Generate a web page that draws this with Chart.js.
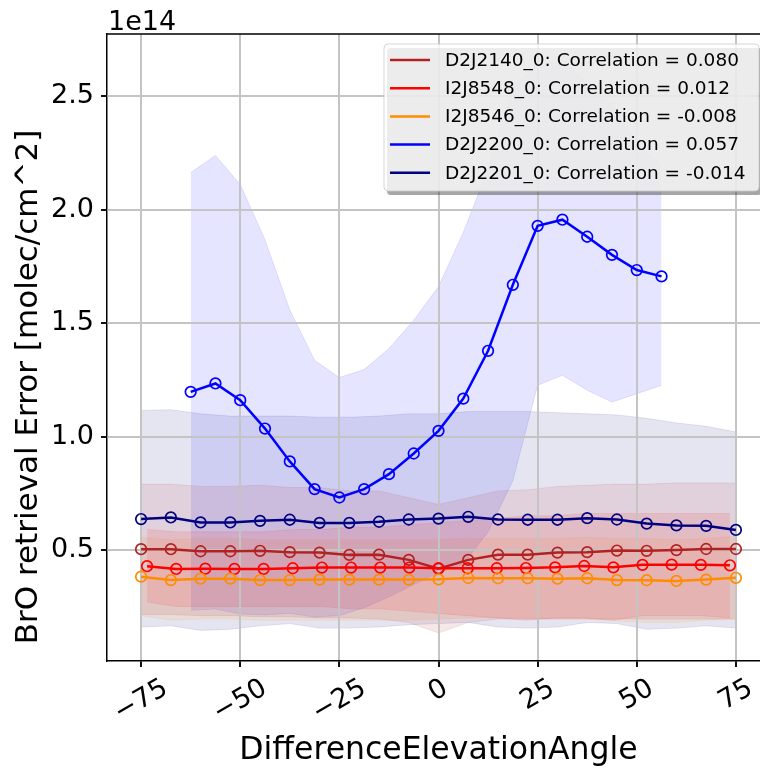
<!DOCTYPE html>
<html>
<head>
<meta charset="utf-8">
<script src="https://cdn.jsdelivr.net/npm/chart.js"></script>
<style>
  html, body { margin: 0; padding: 0; background: #fff; overflow: hidden; }
  #wrap { width: 780px; height: 772px; }
</style>
</head>
<body>
<div id="wrap"><canvas id="myChart" width="780" height="772"></canvas></div>
<script>
// elevation angle differences (x)
const xMain = [-75, -67.5, -60, -52.5, -45, -37.5, -30, -22.5, -15, -7.5, 0, 7.5, 15, 22.5, 30, 37.5, 45, 52.5, 60, 67.5, 75];
const xRed = [-73.5, -66.15, -58.8, -51.45, -44.1, -36.75, -29.4, -22.05, -14.7, -7.35, 0, 7.35, 14.7, 22.05, 29.4, 36.75, 44.1, 51.45, 58.8, 66.15, 73.5];
const xBlue = [-62.5, -56.25, -50, -43.75, -37.5, -31.25, -25, -18.75, -12.5, -6.25, 0, 6.25, 12.5, 18.75, 25, 31.25, 37.5, 43.75, 50, 56.25];

// tick values / labels
const xTicks = [-75, -50, -25, 0, 25, 50, 75];
const xTickLabels = ['\u221275', '\u221250', '\u221225', '0', '25', '50', '75'];
const yTicks = [0.5, 1.0, 1.5, 2.0, 2.5];

const seriesNames = ['D2J2140_0', 'I2J8548_0', 'I2J8546_0', 'D2J2200_0', 'D2J2201_0'];
const correlations = ['0.080', '0.012', '-0.008', '0.057', '-0.014'];

// mean error (units of 1e14 molec/cm^2)
const d2j2140 = [0.503, 0.503, 0.494, 0.494, 0.496, 0.490, 0.488, 0.478, 0.479, 0.456, 0.417, 0.456, 0.479, 0.479, 0.488, 0.490, 0.497, 0.496, 0.499, 0.504, 0.504];
const i2j8548 = [0.428, 0.416, 0.417, 0.416, 0.416, 0.419, 0.422, 0.422, 0.422, 0.422, 0.419, 0.419, 0.419, 0.420, 0.423, 0.429, 0.423, 0.434, 0.435, 0.434, 0.432];
const i2j8546 = [0.382, 0.367, 0.373, 0.373, 0.367, 0.367, 0.369, 0.369, 0.369, 0.369, 0.370, 0.376, 0.375, 0.375, 0.373, 0.375, 0.367, 0.366, 0.363, 0.369, 0.377];
const d2j2200 = [1.197, 1.234, 1.160, 1.035, 0.890, 0.768, 0.731, 0.768, 0.834, 0.925, 1.025, 1.167, 1.378, 1.669, 1.929, 1.956, 1.881, 1.801, 1.734, 1.706];
const d2j2201 = [0.636, 0.643, 0.621, 0.621, 0.628, 0.633, 0.619, 0.619, 0.624, 0.634, 0.638, 0.646, 0.634, 0.633, 0.633, 0.640, 0.634, 0.616, 0.608, 0.606, 0.588];

// spread bands (upper / lower)
const d2j2140Hi = [0.79, 0.79, 0.78, 0.78, 0.785, 0.775, 0.775, 0.76, 0.76, 0.73, 0.70, 0.73, 0.76, 0.765, 0.78, 0.785, 0.79, 0.79, 0.795, 0.795, 0.795];
const d2j2140Lo = [0.215, 0.215, 0.21, 0.21, 0.205, 0.205, 0.20, 0.20, 0.195, 0.18, 0.134, 0.18, 0.195, 0.195, 0.195, 0.195, 0.195, 0.195, 0.195, 0.195, 0.195];
const i2j8548Hi = [0.59, 0.58, 0.58, 0.58, 0.58, 0.59, 0.59, 0.60, 0.60, 0.61, 0.62, 0.63, 0.64, 0.65, 0.65, 0.66, 0.66, 0.66, 0.66, 0.66, 0.66];
const i2j8548Lo = [0.27, 0.25, 0.25, 0.25, 0.25, 0.25, 0.25, 0.24, 0.24, 0.23, 0.22, 0.21, 0.20, 0.19, 0.20, 0.20, 0.19, 0.21, 0.21, 0.21, 0.20];
const i2j8546Hi = [0.555, 0.545, 0.55, 0.55, 0.545, 0.545, 0.545, 0.545, 0.545, 0.545, 0.545, 0.55, 0.55, 0.55, 0.55, 0.555, 0.55, 0.55, 0.545, 0.55, 0.56];
const i2j8546Lo = [0.21, 0.19, 0.195, 0.195, 0.19, 0.19, 0.19, 0.19, 0.19, 0.19, 0.195, 0.20, 0.20, 0.20, 0.195, 0.195, 0.185, 0.18, 0.18, 0.19, 0.195];
const d2j2200Hi = [2.164, 2.239, 2.111, 1.867, 1.558, 1.336, 1.26, 1.295, 1.388, 1.513, 1.661, 1.90, 2.18, 2.54, 2.64, 2.65, 2.566, 2.458, 2.289, 2.198];
const d2j2200Lo = [0.234, 0.239, 0.217, 0.213, 0.22, 0.204, 0.21, 0.245, 0.292, 0.347, 0.40, 0.436, 0.58, 0.805, 1.226, 1.27, 1.204, 1.152, 1.189, 1.226];
const d2j2201Hi = [1.115, 1.118, 1.10, 1.09, 1.09, 1.09, 1.085, 1.085, 1.09, 1.10, 1.10, 1.11, 1.11, 1.11, 1.105, 1.10, 1.095, 1.08, 1.06, 1.045, 1.02];
const d2j2201Lo = [0.16, 0.165, 0.145, 0.15, 0.165, 0.175, 0.155, 0.155, 0.16, 0.17, 0.175, 0.18, 0.16, 0.155, 0.16, 0.18, 0.175, 0.15, 0.155, 0.165, 0.155];

const colors = [[178, 34, 34], [255, 0, 0], [255, 140, 0], [0, 0, 255], [0, 0, 128]];
const rgba = (c, a) => `rgba(${c[0]},${c[1]},${c[2]},${a})`;
const pts = (xs, ys) => xs.map((x, i) => ({ x: x, y: ys[i] }));

const series = [
  { x: xMain, mean: d2j2140, hi: d2j2140Hi, lo: d2j2140Lo },
  { x: xRed, mean: i2j8548, hi: i2j8548Hi, lo: i2j8548Lo },
  { x: xMain, mean: i2j8546, hi: i2j8546Hi, lo: i2j8546Lo },
  { x: xBlue, mean: d2j2200, hi: d2j2200Hi, lo: d2j2200Lo },
  { x: xMain, mean: d2j2201, hi: d2j2201Hi, lo: d2j2201Lo }
];

const datasets = [];
series.forEach((s, k) => {
  datasets.push({
    data: pts(s.x, s.hi), borderColor: rgba(colors[k], 0.1), borderWidth: 1,
    pointRadius: 0, fill: false, order: 2
  });
  datasets.push({
    data: pts(s.x, s.lo), borderColor: rgba(colors[k], 0.1), borderWidth: 1,
    pointRadius: 0, fill: '-1', backgroundColor: rgba(colors[k], 0.1), order: 2
  });
});
series.forEach((s, k) => {
  datasets.push({
    label: seriesNames[k],
    data: pts(s.x, s.mean),
    borderColor: rgba(colors[k], 1),
    borderWidth: 2.5,
    pointRadius: 5.3,
    pointBorderWidth: 1.7,
    pointBorderColor: rgba(colors[k], 1),
    pointBackgroundColor: 'rgba(0,0,0,0)',
    fill: false,
    order: 1.5 - k * 0.1
  });
});

const FONT = '"DejaVu Sans", sans-serif';
const TICK_SIZE = 27;

const extras = {
  id: 'extras',
  afterDatasetDraw(chart, args) {
    // grid sits above the bands but under the lines
    if (args.index === 0) {
      chart.scales.x.drawGrid(chart.chartArea);
      chart.scales.y.drawGrid(chart.chartArea);
    }
  },
  afterDraw(chart) {
    const ctx = chart.ctx;
    const a = chart.chartArea;
    ctx.save();
    // top and right spines
    ctx.strokeStyle = '#000';
    ctx.lineWidth = 1.5;
    ctx.beginPath();
    ctx.moveTo(a.left, a.top); ctx.lineTo(a.right, a.top); ctx.lineTo(a.right, a.bottom);
    ctx.stroke();

    // offset text
    ctx.fillStyle = '#000';
    ctx.font = TICK_SIZE + 'px ' + FONT;
    ctx.textAlign = 'left';
    ctx.textBaseline = 'alphabetic';
    ctx.fillText('1e14', a.left + 1, 30);

    // rotated x tick labels, centred under the ticks
    const xs = chart.scales.x;
    xTicks.forEach((v, i) => {
      const lab = xTickLabels[i];
      const px = xs.getPixelForValue(v);
      const w = ctx.measureText(lab).width;
      const h = TICK_SIZE * 1.17;
      const H = w * Math.sin(Math.PI / 6) + h * Math.cos(Math.PI / 6);
      ctx.save();
      ctx.translate(px, a.bottom + 12 + H / 2);
      ctx.rotate(-Math.PI / 6);
      ctx.textAlign = 'center';
      ctx.textBaseline = 'middle';
      ctx.fillText(lab, 0, 0);
      ctx.restore();
    });

    // y axis title
    ctx.save();
    ctx.font = '31px ' + FONT;
    ctx.translate(29, 387);
    ctx.rotate(-Math.PI / 2);
    ctx.textAlign = 'center';
    ctx.textBaseline = 'middle';
    ctx.fillText('BrO retrieval Error [molec/cm^2]', 0, 0);
    ctx.restore();

    // legend with shadow
    const lx = 384, ly = 44, lw = 375, lh = 147;
    ctx.fillStyle = 'rgba(77,77,77,0.5)';
    ctx.beginPath(); ctx.roundRect(lx + 3, ly + 4, lw, lh, 4); ctx.fill();
    ctx.fillStyle = 'rgba(255,255,255,0.8)';
    ctx.strokeStyle = 'rgba(204,204,204,0.8)';
    ctx.lineWidth = 1;
    ctx.beginPath(); ctx.roundRect(lx, ly, lw, lh, 4); ctx.fill(); ctx.stroke();

    ctx.font = '18.5px ' + FONT;
    ctx.textAlign = 'left';
    ctx.textBaseline = 'middle';
    seriesNames.forEach((n, k) => {
      const y = 60 + k * 28.2;
      ctx.strokeStyle = rgba(colors[k], 1);
      ctx.lineWidth = 2.5;
      ctx.beginPath(); ctx.moveTo(390, y); ctx.lineTo(430, y); ctx.stroke();
      ctx.fillStyle = '#000';
      ctx.fillText(n + ': Correlation = ' + correlations[k], 445, y + 1);
    });
    ctx.restore();
  }
};

Chart.defaults.color = '#000';
Chart.defaults.font.family = FONT;

new Chart(document.getElementById('myChart'), {
  type: 'line',
  data: { datasets: datasets },
  plugins: [extras],
  options: {
    responsive: false,
    devicePixelRatio: 1,
    animation: false,
    layout: { padding: { top: 34, right: 10, left: 0, bottom: 0 } },
    plugins: { legend: { display: false }, tooltip: { enabled: false } },
    scales: {
      x: {
        type: 'linear',
        min: -83.6,
        max: 83.6,
        afterBuildTicks: (s) => { s.ticks = xTicks.map(v => ({ value: v })); },
        afterFit: (s) => { s.height = 111; },
        ticks: { display: false },
        grid: { color: '#c4c4c4', lineWidth: 2, tickLength: 6, tickColor: '#000', tickWidth: 1.5 },
        border: { color: '#000', width: 1.5 },
        title: { display: true, text: 'DifferenceElevationAngle', font: { size: 31.5 }, padding: { top: 0, bottom: 2 } }
      },
      y: {
        type: 'linear',
        min: 0.01,
        max: 2.775,
        afterBuildTicks: (s) => { s.ticks = yTicks.map(v => ({ value: v })); },
        afterFit: (s) => { s.width = 107; },
        ticks: { font: { size: TICK_SIZE }, padding: 7, callback: (v) => Number(v).toFixed(1) },
        grid: { color: '#c4c4c4', lineWidth: 2, tickLength: 6, tickColor: '#000', tickWidth: 1.5 },
        border: { color: '#000', width: 1.5 }
      }
    }
  }
});
</script>
</body>
</html>
